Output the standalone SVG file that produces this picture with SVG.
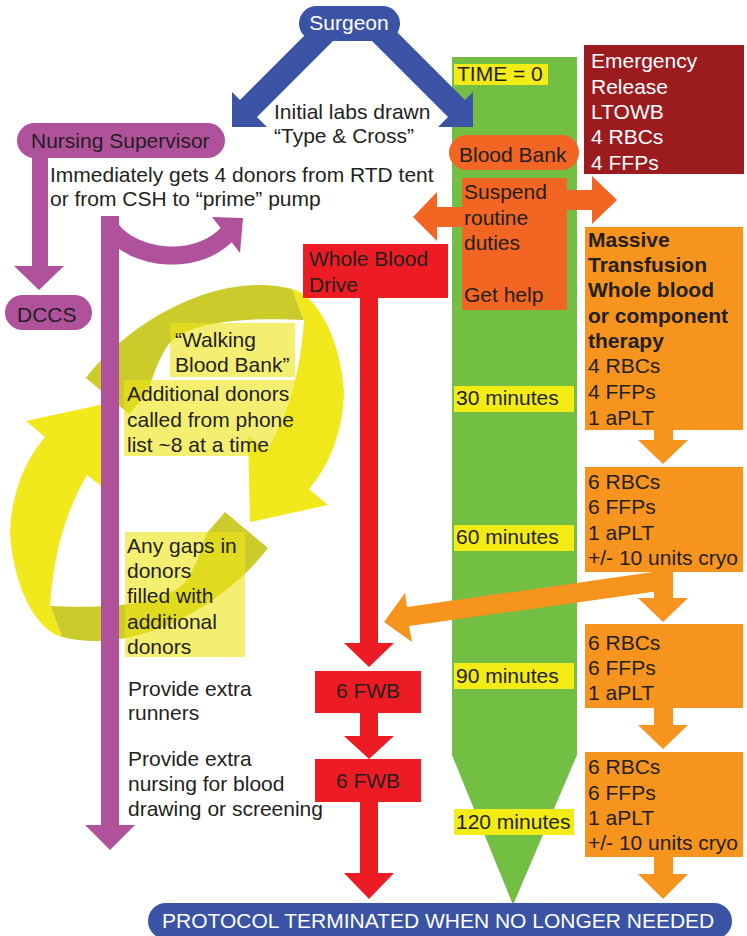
<svg xmlns="http://www.w3.org/2000/svg" width="747" height="936" viewBox="0 0 747 936">
  <defs>
    <style>
      text{font-family:"Liberation Sans",Arial,Helvetica,sans-serif;font-size:21px;fill:#231f20}
      .w{fill:#ffffff}
      .b{font-weight:bold}
      .blue{fill:#3a53a4}
      .purple{fill:#b0519c}
      .red{fill:#ed1c24}
      .orange{fill:#f7941d}
      .ored{fill:#f26522}
      .maroon{fill:#9b1b1f}
      .green{fill:#72bf44}
      .tlab{fill:#f2eb14}
      .note{fill:#efe51a;fill-opacity:0.62}
      .yel{fill:#f1e91b}
      .olv{fill:#cbcb2c}
    </style>
    <!-- one half of the donor-recruitment swirl; drawn twice, the second turned 180 degrees -->
    <g id="swirl">
      <path class="olv" d="M86,378 C130,320 220,270 292,289 L304,320 C260,318 190,318 168,345 C158,360 152,378 148,392 L129,414 Z"/>
      <path class="yel" d="M292,289 C312,293 340,330 344,393 C343,430 330,465 309,489 L328,505 L250,522 L248,436 L267,451 C285,420 300,380 304,320 Z"/>
    </g>
  </defs>

  <rect width="747" height="936" fill="#ffffff"/>

  <!-- time axis -->
  <g id="timeline">
    <path class="green" d="M452,57 H577 V755 L513,905 L452,755 Z"/>
    <rect class="tlab" x="454" y="64" width="94" height="21"/>
    <text x="457" y="81">TIME = 0</text>
    <rect class="tlab" x="454" y="386" width="120" height="26"/>
    <text x="456" y="405">30 minutes</text>
    <rect class="tlab" x="454" y="525" width="120" height="26"/>
    <text x="456" y="544">60 minutes</text>
    <rect class="tlab" x="454" y="663" width="120" height="26"/>
    <text x="456" y="683">90 minutes</text>
    <rect class="tlab" x="454" y="809" width="120" height="26"/>
    <text x="456" y="829">120 minutes</text>
  </g>

  <!-- walking blood bank cycle -->
  <g id="donor-cycle">
    <use href="#swirl"/>
    <use href="#swirl" transform="rotate(180 177 463)"/>
  </g>

  <g id="walking-blood-bank">
    <rect class="note" x="170" y="323" width="125" height="54"/>
    <text x="175" y="347">“Walking</text>
    <text x="175" y="372">Blood Bank”</text>
  </g>
  <g id="additional-donors">
    <rect class="note" x="124" y="380" width="171" height="76"/>
    <text x="127" y="401">Additional donors</text>
    <text x="127" y="427">called from phone</text>
    <text x="127" y="452">list ~8 at a time</text>
  </g>
  <g id="gap-fill">
    <rect class="note" x="125" y="532" width="120" height="125"/>
    <text x="127" y="553">Any gaps in</text>
    <text x="127" y="578">donors</text>
    <text x="127" y="603">filled with</text>
    <text x="127" y="629">additional</text>
    <text x="127" y="654">donors</text>
  </g>

  <!-- connectors -->
  <g id="connectors">
    <!-- surgeon: initial labs -->
    <polygon class="blue" points="310,30 240,100 232,92 232,127 267,127 257,117 344,30"/>
    <polygon class="blue" points="361,30 448,117 438,127 473,127 473,92 465,100 395,30"/>
    <!-- nursing supervisor -->
    <path class="purple" d="M32,150 H48 V266 H64 L39,290 L14,266 H32 Z"/>
    <path class="purple" d="M101,216 H119 V825 H135 L110,850 L85,825 H101 Z"/>
    <path d="M110,228 C135,262 200,266 229,232" fill="none" stroke="#b0519c" stroke-width="18"/>
    <polygon class="purple" points="243,218 212,217 240,253"/>
    <!-- whole blood drive -->
    <path class="red" d="M360,290 H378 V643 H394 L369,667 L344,643 H360 Z"/>
    <path class="red" d="M360,710 H378 V736 H394 L369,759 L344,736 H360 Z"/>
    <path class="red" d="M360,798 H378 V873 H394 L369,899 L344,873 H360 Z"/>
    <!-- blood bank -->
    <path class="ored" d="M465,207 H437 V192 L413,217 L437,241 V227 H465 Z"/>
    <path class="ored" d="M564,190 H592 V176 L617,200 L592,224 V210 H564 Z"/>
    <!-- massive transfusion steps -->
    <path class="orange" d="M654,428 H673 V440 H688 L663,464 L638,440 H654 Z"/>
    <path class="orange" d="M654,570 H673 V598 H688 L663,622 L638,598 H654 Z"/>
    <path class="orange" d="M654,706 H673 V725 H688 L663,749 L638,725 H654 Z"/>
    <path class="orange" d="M654,855 H673 V874 H688 L663,899 L638,874 H654 Z"/>
    <path class="orange" d="M660,571 L407,607 L405,593 L384,622 L412,642 L409,626 L666,590 Z"/>
  </g>

  <!-- nodes -->
  <g id="surgeon">
    <rect class="blue" x="299" y="6" width="101" height="35" rx="17.5"/>
    <text class="w" x="349" y="30" text-anchor="middle">Surgeon</text>
  </g>
  <g id="initial-labs">
    <text x="274" y="119">Initial labs drawn</text>
    <text x="274" y="143">“Type &amp; Cross”</text>
  </g>
  <g id="nursing-supervisor">
    <rect class="purple" x="17" y="123" width="208" height="35" rx="17.5"/>
    <text x="31" y="148">Nursing Supervisor</text>
  </g>
  <g id="prime-pump">
    <text x="50" y="182">Immediately gets 4 donors from RTD tent</text>
    <text x="50" y="206">or from CSH to “prime” pump</text>
  </g>
  <g id="dccs">
    <rect class="purple" x="5" y="295" width="87" height="35" rx="17.5"/>
    <text x="17" y="322">DCCS</text>
  </g>
  <g id="runners">
    <text x="128" y="696">Provide extra</text>
    <text x="128" y="720">runners</text>
  </g>
  <g id="extra-nursing">
    <text x="128" y="766">Provide extra</text>
    <text x="128" y="791">nursing for blood</text>
    <text x="128" y="816">drawing or screening</text>
  </g>

  <g id="whole-blood-drive">
    <rect class="red" x="303" y="244" width="145" height="54"/>
    <text x="309" y="266">Whole Blood</text>
    <text x="309" y="292">Drive</text>
  </g>
  <g id="fwb-1">
    <rect class="red" x="315" y="671" width="106" height="42"/>
    <text x="368" y="698" text-anchor="middle">6 FWB</text>
  </g>
  <g id="fwb-2">
    <rect class="red" x="315" y="759" width="106" height="43"/>
    <text x="368" y="788" text-anchor="middle">6 FWB</text>
  </g>

  <g id="blood-bank">
    <rect class="ored" x="449" y="135" width="130" height="35" rx="17.5"/>
    <text x="459" y="162">Blood Bank</text>
  </g>
  <g id="blood-bank-actions">
    <rect class="ored" x="462" y="178" width="105" height="132"/>
    <text x="464" y="199">Suspend</text>
    <text x="464" y="225">routine</text>
    <text x="464" y="250">duties</text>
    <text x="464" y="302">Get help</text>
  </g>

  <g id="emergency-release">
    <rect class="maroon" x="584" y="45" width="160" height="129"/>
    <text class="w" x="591" y="68">Emergency</text>
    <text class="w" x="591" y="94">Release</text>
    <text class="w" x="591" y="119">LTOWB</text>
    <text class="w" x="591" y="144">4 RBCs</text>
    <text class="w" x="591" y="170">4 FFPs</text>
  </g>

  <g id="massive-transfusion">
    <rect class="orange" x="585" y="227" width="158" height="203"/>
    <text class="b" x="588" y="247">Massive</text>
    <text class="b" x="588" y="272">Transfusion</text>
    <text class="b" x="588" y="297">Whole blood</text>
    <text class="b" x="588" y="323">or component</text>
    <text class="b" x="588" y="348">therapy</text>
    <text x="588" y="373">4 RBCs</text>
    <text x="588" y="399">4 FFPs</text>
    <text x="588" y="425">1 aPLT</text>
  </g>
  <g id="round-60">
    <rect class="orange" x="585" y="467" width="158" height="105"/>
    <text x="588" y="489">6 RBCs</text>
    <text x="588" y="514">6 FFPs</text>
    <text x="588" y="540">1 aPLT</text>
    <text x="588" y="565">+/- 10 units cryo</text>
  </g>
  <g id="round-90">
    <rect class="orange" x="585" y="624" width="158" height="84"/>
    <text x="588" y="650">6 RBCs</text>
    <text x="588" y="675">6 FFPs</text>
    <text x="588" y="700">1 aPLT</text>
  </g>
  <g id="round-120">
    <rect class="orange" x="585" y="752" width="158" height="105"/>
    <text x="588" y="774">6 RBCs</text>
    <text x="588" y="800">6 FFPs</text>
    <text x="588" y="825">1 aPLT</text>
    <text x="588" y="850">+/- 10 units cryo</text>
  </g>

  <g id="protocol-end">
    <rect class="blue" x="148" y="903" width="584" height="36" rx="18"/>
    <text class="w" x="162" y="928">PROTOCOL TERMINATED WHEN NO LONGER NEEDED</text>
  </g>
</svg>
